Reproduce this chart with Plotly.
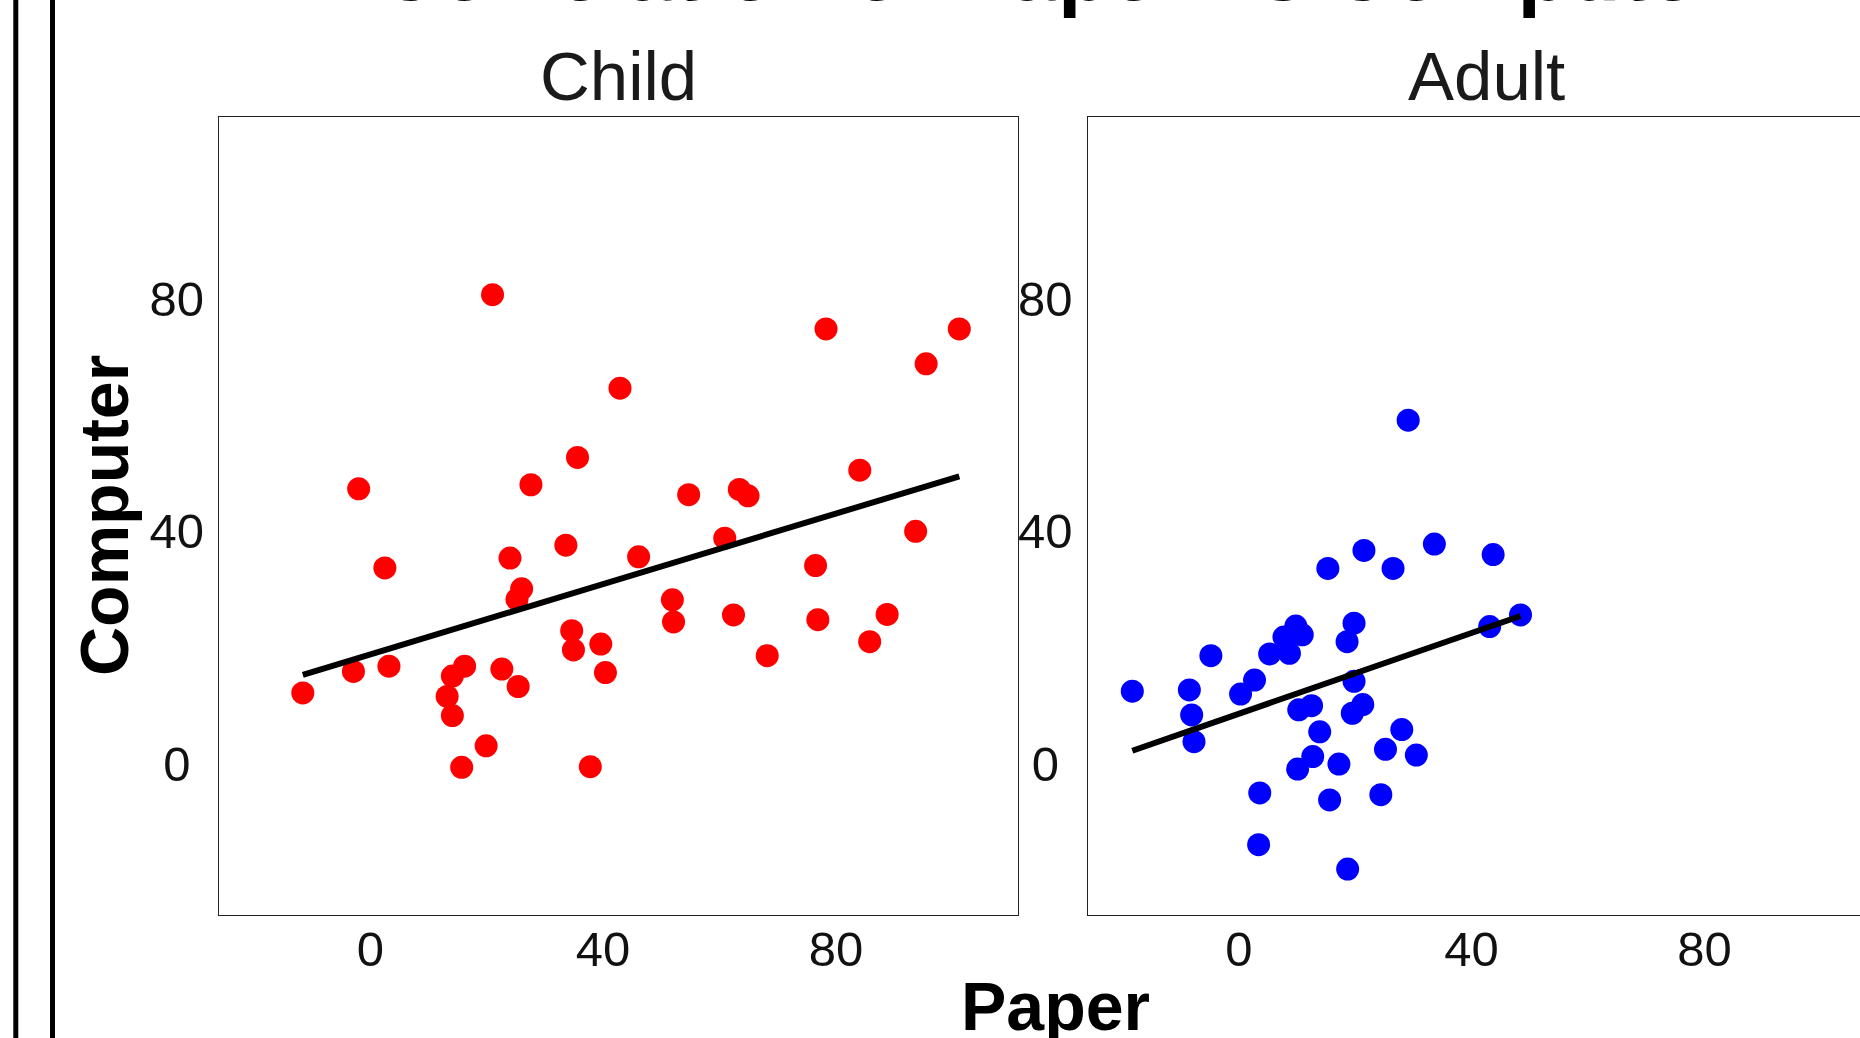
import numpy as np
import plotly.graph_objects as go

# ---------------- data ----------------
panels = ["Child", "Adult"]

child_paper = [21.0, 78.3, 101.2, 95.5, 42.9, 35.6, 84.1, -2.0, 27.6, 54.7, 63.4, 64.9,
               93.7, 60.9, 2.5, 24.0, 33.6, 46.1, 76.5, 26.0, 25.2, 51.9, 52.1, 62.4,
               76.9, 88.8, 85.8, 68.2, 34.6, 34.9, 39.6, 40.4, 22.6, 25.4, 16.2, 14.1,
               13.2, 14.1, 19.9, 15.7, 37.8, 3.2, -2.9, -11.6]
child_computer = [80.7, 74.8, 74.8, 68.8, 64.6, 52.7, 50.5, 47.3, 48.0, 46.3, 47.2, 46.1,
                  40.0, 38.8, 33.7, 35.4, 37.6, 35.6, 34.1, 30.1, 28.3, 28.2, 24.4, 25.6,
                  24.8, 25.7, 21.0, 18.6, 22.9, 19.6, 20.6, 15.7, 16.3, 13.3, 16.8, 15.1,
                  11.6, 8.3, 3.1, -0.6, -0.5, 16.8, 15.9, 12.2]

adult_paper = [29.1, 21.5, 33.6, 15.3, 26.5, 43.7, 48.4, 43.1, 19.8, 18.6, 9.8, 10.9,
               7.75, 5.3, 8.7, -4.8, -18.3, -8.5, 2.7, 0.3, -8.1, -7.7, 19.8, 10.3,
               12.5, 21.3, 19.5, 13.9, 28.0, 25.2, 30.5, 12.7, 10.1, 17.2, 3.6, 15.6,
               24.4, 3.4, 18.7]
adult_computer = [59.1, 36.7, 37.8, 33.6, 33.6, 36.0, 25.6, 23.6, 24.2, 21.0, 23.7, 22.2,
                  21.8, 18.9, 19.0, 18.6, 12.5, 12.7, 14.4, 12.0, 8.4, 3.8, 14.2, 9.3,
                  10.0, 10.2, 8.7, 5.5, 5.9, 2.5, 1.5, 1.25, -0.9, -0.05, -5.0, -6.2,
                  -5.3, -13.9, -18.1]

tick_vals = [0, 40, 80]
x_tick_text = ["0", "40", "80"]
y_tick_text = ["0\u00a0", "40", "80"]   # nbsp keeps single digit centred like the others

title_text = "Correlation of Paper vs Computer"
x_title = "Paper"
y_title = "Computer"

# ---------------- figure ----------------
W, H = 1860, 1038
FONT = "Liberation Sans, Arial, Helvetica, sans-serif"

fig = go.Figure()


def add_panel(px, py, color, xa, ya):
    fig.add_trace(go.Scatter(x=px, y=py, mode="markers", xaxis=xa, yaxis=ya,
                             marker=dict(color=color, size=23, line=dict(width=0)),
                             showlegend=False, hoverinfo="skip"))
    slope, icpt = np.polyfit(np.array(px), np.array(py), 1)
    xs = np.array([min(px), max(px)])
    fig.add_trace(go.Scatter(x=xs, y=slope * xs + icpt, mode="lines", xaxis=xa, yaxis=ya,
                             line=dict(color="black", width=6),
                             showlegend=False, hoverinfo="skip"))


add_panel(child_paper, child_computer, "#FF0000", "x", "y")
add_panel(adult_paper, adult_computer, "#0000FF", "x2", "y2")


# pixel geometry -> paper fractions
def fx(p):
    return p / W


def fy(p):
    return 1 - p / H


left_dom = [fx(219), fx(1017.5)]
right_dom = [fx(1087.5), 1.0]
y_dom = [fy(915), fy(117.3)]
rng = [-26, 111.2]
px_per_unit = (1017.5 - 219) / (rng[1] - rng[0])
right_rng = [rng[0], rng[0] + (W - 1087.5) / px_per_unit]

tickfont = dict(family=FONT, size=49, color="#111111")
line_col = "#222222"

common_x = dict(tickmode="array", tickvals=tick_vals, ticktext=x_tick_text, ticks="",
                showgrid=False, zeroline=False, showline=True, linecolor=line_col,
                linewidth=1.3, tickfont=tickfont, ticklabelstandoff=-9, automargin=False)
common_y = dict(tickmode="array", tickvals=tick_vals, ticktext=y_tick_text, ticks="",
                showgrid=False, zeroline=False, showline=True, linecolor=line_col,
                linewidth=1.3, tickfont=tickfont, ticklabelstandoff=4, automargin=False,
                range=rng, domain=y_dom)

fig.update_layout(
    width=W, height=H,
    margin=dict(l=0, r=0, t=0, b=0),
    paper_bgcolor="white", plot_bgcolor="white",
    font=dict(family=FONT, color="black"),
    xaxis=dict(**common_x, domain=left_dom, range=rng, mirror=True, anchor="y"),
    yaxis=dict(**common_y, mirror=True, anchor="x"),
    xaxis2=dict(**common_x, domain=right_dom, range=right_rng, mirror=True, anchor="y2"),
    yaxis2=dict(**common_y, mirror=False, anchor="x2"),
)

# strip labels
for name, dom in zip(panels, [left_dom, [fx(1087.5), fx(1087.5 + 798.5)]]):
    fig.add_annotation(text=name, xref="paper", yref="paper",
                       x=(dom[0] + dom[1]) / 2, y=fy(76), xanchor="center", yanchor="middle",
                       showarrow=False, font=dict(family=FONT, size=69, color="#1a1a1a"))

# overall title (partly cut off at top, as in the reference)
fig.add_annotation(text="<b>%s</b>" % title_text, xref="paper", yref="paper",
                   x=fx(1053), y=fy(-29.5), xanchor="center", yanchor="middle",
                   showarrow=False, font=dict(family=FONT, size=84.4, color="black"))

# axis titles
fig.add_annotation(text="<b>%s</b>" % x_title, xref="paper", yref="paper",
                   x=fx(1055), y=fy(1006), xanchor="center", yanchor="middle",
                   showarrow=False, font=dict(family=FONT, size=68, color="black"))
fig.add_annotation(text="<b>%s</b>" % y_title, xref="paper", yref="paper",
                   x=fx(104), y=fy(516), xanchor="center", yanchor="middle", textangle=-90,
                   showarrow=False, font=dict(family=FONT, size=68, color="black"))

# the two heavy vertical rules at the far left edge
for xp in [15.8, 52.5]:
    fig.add_shape(type="line", xref="paper", yref="paper", x0=fx(xp), x1=fx(xp), y0=-0.02, y1=1.02,
                  line=dict(color="black", width=5))

fig.write_html("out.html", config={"displayModeBar": False},
               post_script="document.body.style.margin='0';document.body.style.overflow='hidden';")
